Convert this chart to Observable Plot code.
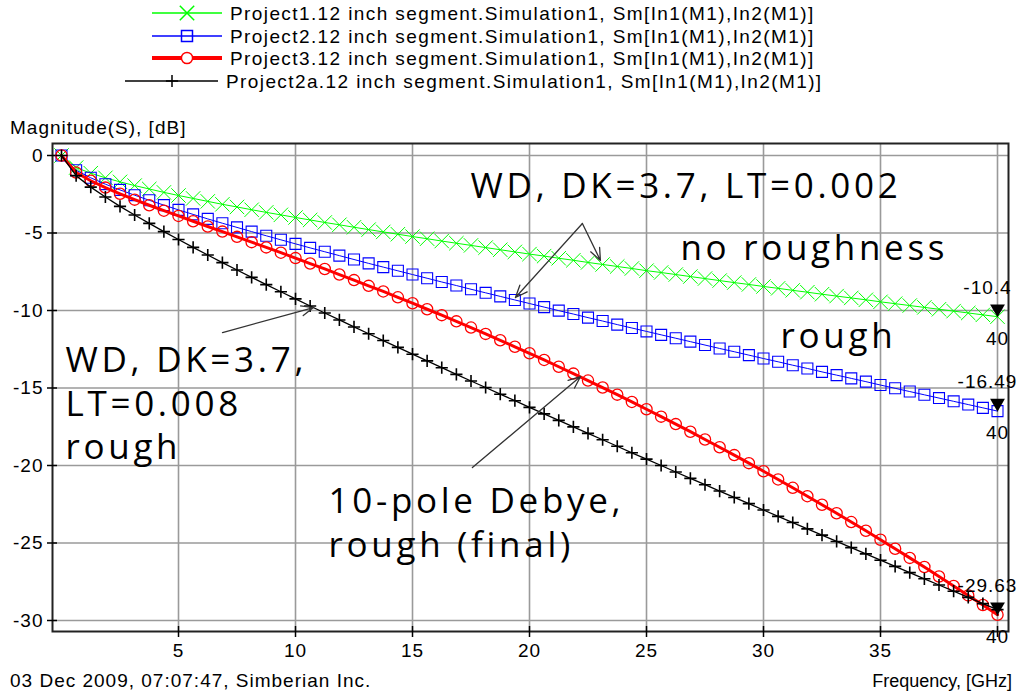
<!DOCTYPE html>
<html><head><meta charset="utf-8">
<script src="https://cdn.jsdelivr.net/npm/d3@7"></script>
<script src="https://cdn.jsdelivr.net/npm/@observablehq/plot@0.6"></script>
<style>
body{margin:0;background:#fff;width:1018px;height:694px;overflow:hidden;position:relative;font-family:"Liberation Sans",Arial,sans-serif;}
#legend{position:absolute;left:0;top:0;}
#chart{position:absolute;left:0;top:112px;}
.cap{position:absolute;font-size:19px;letter-spacing:1px;color:#000;line-height:22px;white-space:nowrap;}
#chart g[font-size="35"] text{letter-spacing:3.7px;}
#chart g[font-size="19"] text{letter-spacing:1px;}
#chart g[aria-label="x-axis tick label"] text, #chart g[aria-label="y-axis tick label"] text{letter-spacing:1px;}
</style></head><body>
<svg id="legend" width="1018" height="112"></svg>
<div id="chart"></div>
<div class="cap" style="left:10px;top:117px">Magnitude(S), [dB]</div>
<div class="cap" style="left:10px;top:670px">03 Dec 2009, 07:07:47, Simberian Inc.</div>
<div class="cap" style="right:6px;top:670px;letter-spacing:0;font-size:18px">Frequency, [GHz]</div>
<script>
// ---- data ----
const freq = [0,0.625,1.25,1.875,2.5,3.125,3.75,4.375,5,5.625,6.25,6.875,7.5,8.125,8.75,9.375,10,10.625,11.25,11.875,12.5,13.125,13.75,14.375,15,15.625,16.25,16.875,17.5,18.125,18.75,19.375,20,20.625,21.25,21.875,22.5,23.125,23.75,24.375,25,25.625,26.25,26.875,27.5,28.125,28.75,29.375,30,30.625,31.25,31.875,32.5,33.125,33.75,34.375,35,35.625,36.25,36.875,37.5,38.125,38.75,39.375,40];
const project1 = [0,-0.78,-1.14,-1.44,-1.70,-1.94,-2.16,-2.38,-2.58,-2.77,-2.96,-3.15,-3.32,-3.50,-3.67,-3.83,-4.00,-4.16,-4.32,-4.47,-4.63,-4.78,-4.93,-5.08,-5.23,-5.37,-5.52,-5.66,-5.80,-5.94,-6.08,-6.22,-6.36,-6.49,-6.63,-6.76,-6.90,-7.03,-7.16,-7.29,-7.43,-7.55,-7.68,-7.81,-7.94,-8.07,-8.20,-8.32,-8.45,-8.57,-8.70,-8.82,-8.95,-9.07,-9.19,-9.31,-9.44,-9.56,-9.68,-9.80,-9.92,-10.04,-10.16,-10.28,-10.40];
const project2 = [0,-0.95,-1.44,-1.85,-2.22,-2.56,-2.89,-3.20,-3.51,-3.80,-4.09,-4.37,-4.64,-4.91,-5.18,-5.44,-5.70,-5.96,-6.21,-6.46,-6.71,-6.96,-7.20,-7.44,-7.68,-7.92,-8.16,-8.39,-8.63,-8.86,-9.09,-9.32,-9.55,-9.78,-10.01,-10.23,-10.46,-10.68,-10.91,-11.13,-11.35,-11.57,-11.79,-12.01,-12.23,-12.45,-12.66,-12.88,-13.10,-13.31,-13.53,-13.74,-13.96,-14.17,-14.38,-14.59,-14.81,-15.02,-15.23,-15.44,-15.65,-15.86,-16.07,-16.28,-16.49];
const project3 = [0,-1.10,-1.63,-2.07,-2.47,-2.85,-3.21,-3.56,-3.90,-4.24,-4.58,-4.91,-5.25,-5.59,-5.93,-6.27,-6.62,-6.97,-7.32,-7.68,-8.04,-8.41,-8.77,-9.15,-9.53,-9.92,-10.30,-10.70,-11.10,-11.51,-11.92,-12.34,-12.76,-13.19,-13.63,-14.07,-14.52,-14.97,-15.43,-15.90,-16.37,-16.85,-17.33,-17.82,-18.32,-18.82,-19.33,-19.85,-20.37,-20.90,-21.44,-21.98,-22.53,-23.08,-23.65,-24.21,-24.79,-25.37,-25.96,-26.55,-27.16,-27.77,-28.38,-29.00,-29.63];
const project2a = [0,-1.30,-2.04,-2.68,-3.28,-3.84,-4.38,-4.91,-5.42,-5.93,-6.42,-6.91,-7.39,-7.86,-8.33,-8.79,-9.25,-9.71,-10.16,-10.61,-11.06,-11.50,-11.94,-12.38,-12.82,-13.25,-13.69,-14.12,-14.55,-14.97,-15.40,-15.82,-16.25,-16.67,-17.09,-17.51,-17.93,-18.34,-18.76,-19.18,-19.59,-20.00,-20.42,-20.83,-21.24,-21.65,-22.06,-22.46,-22.87,-23.28,-23.68,-24.09,-24.49,-24.90,-25.30,-25.70,-26.11,-26.51,-26.91,-27.31,-27.71,-28.11,-28.51,-28.91,-29.30];
const seriesNames = [
  "Project1.12 inch segment.Simulation1, Sm[In1(M1),In2(M1)]",
  "Project2.12 inch segment.Simulation1, Sm[In1(M1),In2(M1)]",
  "Project3.12 inch segment.Simulation1, Sm[In1(M1),In2(M1)]",
  "Project2a.12 inch segment.Simulation1, Sm[In1(M1),In2(M1)]"
];
const seriesValues = [project1, project2, project3, project2a];
const xTicks = [5,10,15,20,25,30,35,40];
const xTickLabels = ["5","10","15","20","25","30","35",""];
const yTicks = [0,-5,-10,-15,-20,-25,-30];
const markerFreq = [40,40,40];
const markerValue = [-10.4,-16.49,-29.63];
const markerText = ["-10.4","-16.49","-29.63"];
const annText = ["WD, DK=3.7, LT=0.002","no roughness","rough","WD, DK=3.7,\nLT=0.008\nrough","10-pole Debye,\nrough (final)"];
const annX = [17.48,26.45,30.73,0.17,11.41];
const annY = [-2.77,-6.77,-12.45,-19.6,-25.9];
const arrowX1 = [22.26,22.26,6.88,17.56];
const arrowY1 = [-4.39,-4.39,-11.42,-20.13];
const arrowX2 = [19.40,23.03,10.77,22.18];
const arrowY2 = [-9.16,-6.77,-9.81,-14.26];

// ---- styles ----
const colors = ["#00ff00","#0000ff","#ff0000","#000000"];
const symbols = ["times","square","circle","plus"];
const lineWidths = [1,1,3,1.3];
const dotR = [6.6,6.2,5.6,4.0];
const dotStroke = [1,1.1,1.3,1.6];
const d3sym = {times:d3.symbolTimes, square:d3.symbolSquare, circle:d3.symbolCircle, plus:d3.symbolPlus};

const tables = seriesValues.map(vals => vals.map((v,i) => ({f: freq[i], db: v})));
const markers = markerFreq.map((f,i) => ({f, db: markerValue[i], label: markerText[i]}));
const anns = annText.map((t,i) => ({t, x: annX[i], y: annY[i]}));
const arrows = arrowX1.map((x1,i) => ({x1, y1: arrowY1[i], x2: arrowX2[i], y2: arrowY2[i]}));

const seriesMarks = tables.flatMap((tb, i) => [
  Plot.line(tb, {x:"f", y:"db", stroke: colors[i], strokeWidth: lineWidths[i]}),
  Plot.dot(tb, {x:"f", y:"db", symbol: symbols[i], r: dotR[i], stroke: colors[i], fill:"none", strokeWidth: dotStroke[i]})
]);

const plot = Plot.plot({
  width: 1018, height: 582,
  marginLeft: 52, marginRight: 10, marginTop: 31, marginBottom: 63,
  x: {domain: [-0.385, 40.47]},
  y: {domain: [-30.71, 0.774]},
  style: {fontFamily: "'Liberation Sans', Arial, sans-serif", fontSize: "19px", background: "white", color: "black"},
  marks: [
    Plot.gridX(xTicks, {stroke: "#9a9a9a", strokeOpacity: 1, strokeWidth: 1.6}),
    Plot.gridY(yTicks, {stroke: "#9a9a9a", strokeOpacity: 1, strokeWidth: 1.6}),
    Plot.frame({stroke: "#222", strokeWidth: 2}),
    Plot.axisX(xTicks, {tickSize: 11, dy: -5, tickPadding: 6, label: null, tickFormat: d => xTickLabels[xTicks.indexOf(d)], strokeWidth: 1.5}),
    Plot.axisY(yTicks, {tickSize: 10, dx: 5, tickPadding: 4, label: null, tickFormat: d => String(d), strokeWidth: 1.5}),
    ...seriesMarks,
    Plot.dot(markers, {x:"f", y:"db", symbol:"triangle", rotate:180, r:5.5, fill:"black", stroke:"none", dy:-8}),
    Plot.text(markers, {x:"f", y:"db", text:"label", dx:-10, dy:-23, lineAnchor:"bottom", fontSize:19}),
    Plot.text(markers, {x:"f", y:"db", text: () => "40", dx:0, dy:28, lineAnchor:"bottom", fontSize:19}),
    Plot.arrow(arrows, {x1:"x1", y1:"y1", x2:"x2", y2:"y2", stroke:"#333", strokeWidth:1.3, headLength:15, headAngle:45}),
    Plot.text(anns, {x:"x", y:"y", text:"t", textAnchor:"start", lineAnchor:"bottom", lineHeight:1.25, fontSize:35, fontFamily:"'Open Sans', sans-serif", fill:"black"})
  ]
});
document.getElementById("chart").appendChild(plot);

// ---- legend ----
const leg = d3.select("#legend");
const rowY = [13, 36, 58, 81];
const lineX1 = [152,152,152,125];
const lineX2 = [222,222,222,218];
const symX = [187,187,187,172];
const textX = [230,230,230,226];
seriesNames.forEach((name, i) => {
  leg.append("line").attr("x1", lineX1[i]).attr("x2", lineX2[i]).attr("y1", rowY[i]).attr("y2", rowY[i])
    .attr("stroke", colors[i]).attr("stroke-width", i===2?4:1.5);
  leg.append("path").attr("d", d3.symbol(d3sym[symbols[i]], Math.PI*dotR[i]*dotR[i])())
    .attr("transform", `translate(${symX[i]},${rowY[i]})`)
    .attr("fill", i===2 ? "white" : "none").attr("stroke", colors[i]).attr("stroke-width", 1.5);
  leg.append("text").attr("x", textX[i]).attr("y", rowY[i]+7).text(name)
    .attr("font-size", 19).attr("letter-spacing", "1.4px").attr("fill", "black");
});
</script>
</body></html>
